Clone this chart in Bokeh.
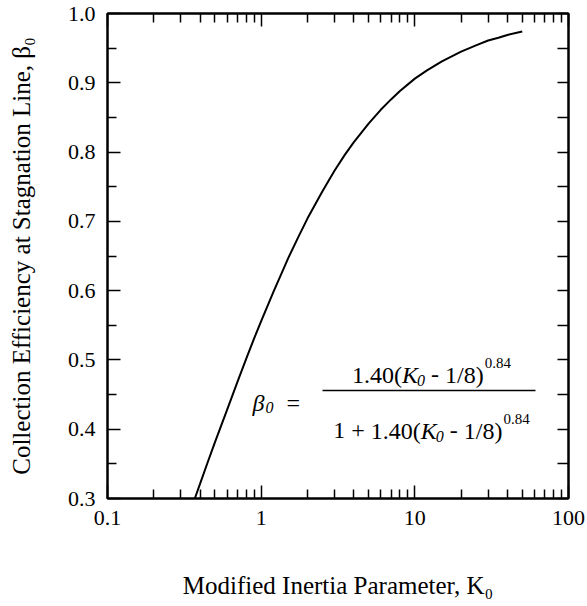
from bokeh.plotting import figure
from bokeh.models import Label, FixedTicker, LinearAxis, LogAxis, NumeralTickFormatter
from bokeh.embed import file_html
from bokeh.resources import INLINE

# Data
K0 = [0.37, 0.40, 0.45, 0.50, 0.60, 0.70, 0.80, 0.90, 1.0, 1.2, 1.5, 1.75, 2.0,
      2.5, 3.0, 3.5, 4.0, 5.0, 6.0, 7.0, 8.0, 10.0, 12.0, 15.0, 20.0, 25.0,
      30.0, 35.0, 40.0, 50.0]
beta0 = [0.300, 0.321, 0.353, 0.381, 0.428, 0.468, 0.502, 0.531, 0.556, 0.598,
         0.647, 0.678, 0.704, 0.743, 0.773, 0.796, 0.814, 0.841, 0.861, 0.876,
         0.888, 0.906, 0.918, 0.931, 0.945, 0.954, 0.961, 0.965, 0.969, 0.974]

x_major = [0.1, 1, 10, 100]
x_minor = [0.2, 0.3, 0.4, 0.5, 0.6, 0.7, 0.8, 0.9,
           2, 3, 4, 5, 6, 7, 8, 9,
           20, 30, 40, 50, 60, 70, 80, 90]
x_labels = {0.1: "0.1", 1: "1", 10: "10", 100: "100"}
y_major = [0.3, 0.4, 0.5, 0.6, 0.7, 0.8, 0.9, 1.0]
y_minor = [0.35, 0.45, 0.55, 0.65, 0.75, 0.85, 0.95]

x_title = "Modified Inertia Parameter, K\u2080"
y_title = "Collection Efficiency at Stagnation Line, \u03b2\u2080"

FONT = "'Liberation Serif', 'Times New Roman', serif"
W, H = 587, 606
FL, FR, FT, FB = 107, 568, 13, 498  # frame edges in canvas pixels

p = figure(width=W, height=H, x_axis_type="log", x_range=(0.1, 100), y_range=(0.3, 1.0),
           output_backend="svg", toolbar_location=None,
           min_border_left=FL, min_border_right=W - FR, min_border_top=FT,
           min_border_bottom=H - FB)
p.xgrid.visible = False
p.ygrid.visible = False
p.outline_line_color = "black"
p.outline_line_width = 2
p.background_fill_color = "white"
p.border_fill_color = "white"


def style(ax, labels=True):
    ax.axis_line_color = "black"
    ax.axis_line_width = 2
    ax.major_tick_line_color = "black"
    ax.major_tick_line_width = 1.5
    ax.minor_tick_line_color = "black"
    ax.minor_tick_line_width = 1.5
    ax.major_tick_in = 13
    ax.major_tick_out = 0
    ax.minor_tick_in = 9
    ax.minor_tick_out = 0
    ax.major_label_text_font = FONT
    ax.major_label_text_color = "black"
    if labels:
        ax.major_label_text_font_size = "22px"
        ax.major_label_standoff = 12
    else:
        ax.major_label_text_font_size = "2px"
        ax.major_label_text_alpha = 0
        ax.major_label_standoff = 0


p.xaxis.ticker = FixedTicker(ticks=x_major, minor_ticks=x_minor)
p.yaxis.ticker = FixedTicker(ticks=y_major, minor_ticks=y_minor)
p.xaxis.major_label_overrides = x_labels
p.yaxis.formatter = NumeralTickFormatter(format="0.0")
style(p.xaxis[0])
style(p.yaxis[0])

for ax, stand in ((p.xaxis[0], 44), (p.yaxis[0], 30)):
    ax.axis_label_text_font = FONT
    ax.axis_label_text_font_size = "25px"
    ax.axis_label_text_font_style = "normal"
    ax.axis_label_text_color = "black"
    ax.axis_label_standoff = stand
p.xaxis.axis_label = x_title
p.yaxis.axis_label = y_title

top = LogAxis(ticker=FixedTicker(ticks=x_major, minor_ticks=x_minor))
right = LinearAxis(ticker=FixedTicker(ticks=y_major, minor_ticks=y_minor))
style(top, labels=False)
style(right, labels=False)
right.minor_tick_in = 11
right.major_tick_in = 11
p.add_layout(top, "above")
p.add_layout(right, "right")

p.line(K0, beta0, line_color="black", line_width=2)


def px2x(px):
    return 10 ** (-1 + (px - FL) / (FR - FL) * 3)


def py2y(py):
    return 0.3 + (FB - py) / (FB - FT) * 0.7


# Times / Liberation Serif advance widths (em)
ADV = {**{d: 0.5 for d in "0123456789"}, ".": 0.25, "(": 0.333, ")": 0.333,
       " ": 0.25, "-": 0.333, "/": 0.278, "+": 0.564, "=": 0.564, "K": 0.667,
       "β": 0.5}


def width(text, size):
    return sum(ADV.get(c, 0.5) for c in text) * size


def piece(text, px, py, size, italic=False, align="left"):
    p.add_layout(Label(x=0.1, y=0.3, x_offset=px - FL, y_offset=FB - py, text=text,
                       text_font=FONT, text_font_size=f"{size}px",
                       text_font_style="italic" if italic else "normal",
                       text_align=align, text_baseline="alphabetic",
                       text_color="black"))


def run(segs, cx, base):
    """segs: (text, size, italic, dy, gap_before) laid out in sequence, centred on cx."""
    total = sum(width(t, s) + g for t, s, _, _, g in segs)
    x = cx - total / 2
    for t, s, it, dy, g in segs:
        x += g
        piece(t, x, base + dy, s, italic=it)
        x += width(t, s)


F, FS, FP = 24, 16, 15
# Formula annotation
piece("β", 252, 402, F, italic=True)
piece("0", 265, 407, FS, italic=True)
piece("=", 286, 402, F)
run([("1.40(", F, False, 0, 0), ("K", F, True, 0, 0), ("0", FS, True, 6, -1),
     ("-", F, False, 0, 6), ("1/8)", F, False, 0, 6), ("0.84", FP, False, -12, 1)],
    431, 374)
p.segment(x0=[px2x(322)], y0=[py2y(390)], x1=[px2x(535)], y1=[py2y(390)],
          line_color="black", line_width=1.5)
run([("1", F, False, 0, 0), ("+", F, False, 0, 6), ("1.40(", F, False, 0, 6),
     ("K", F, True, 0, 0), ("0", FS, True, 6, -1),
     ("-", F, False, 0, 6), ("1/8)", F, False, 0, 6), ("0.84", FP, False, -12, 1)],
    431, 430)

open("out.html", "w").write(file_html(p, INLINE))
